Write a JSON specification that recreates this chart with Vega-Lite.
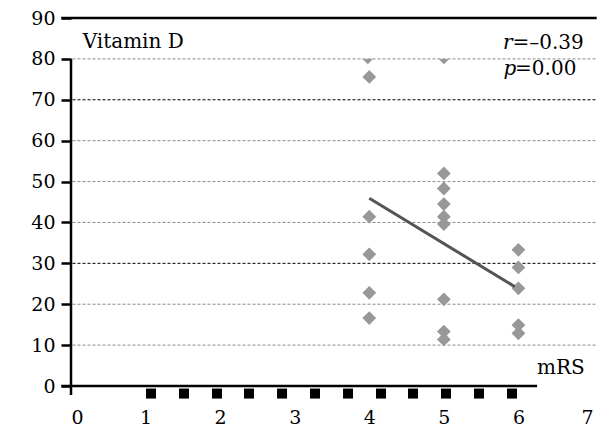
{
  "$schema": "https://vega.github.io/schema/vega-lite/v6.json",
  "autosize": "none",
  "width": 522,
  "height": 368,
  "padding": {"left": 71, "top": 18, "right": 17, "bottom": 42},
  "background": "white",
  "config": {"view": {"stroke": null}, "font": "DejaVu Serif", "axis": {"labelFont": "DejaVu Serif", "labelColor": "black"}},
  "datasets": {
    "points": [
      {"mRS": 4, "vitD": 75.6}, {"mRS": 4, "vitD": 41.4}, {"mRS": 4, "vitD": 32.2}, {"mRS": 4, "vitD": 22.8}, {"mRS": 4, "vitD": 16.6},
      {"mRS": 5, "vitD": 52.0}, {"mRS": 5, "vitD": 48.3}, {"mRS": 5, "vitD": 44.5}, {"mRS": 5, "vitD": 41.4}, {"mRS": 5, "vitD": 39.6}, {"mRS": 5, "vitD": 21.2}, {"mRS": 5, "vitD": 13.3}, {"mRS": 5, "vitD": 11.4},
      {"mRS": 6, "vitD": 33.3}, {"mRS": 6, "vitD": 29.0}, {"mRS": 6, "vitD": 23.9}, {"mRS": 6, "vitD": 14.9}, {"mRS": 6, "vitD": 12.9}
    ],
    "clipped": [{"mRS": 3.98, "vitD": 80}, {"mRS": 5.0, "vitD": 80}],
    "fit": [{"mRS": 4, "vitD": 45.9}, {"mRS": 5.95, "vitD": 24.3}],
    "gridGray": [{"v": 10}, {"v": 20}, {"v": 40}, {"v": 50}, {"v": 60}, {"v": 80}],
    "gridBlack": [{"v": 30}, {"v": 70}],
    "squares": [{"p": 1.073}, {"p": 1.515}, {"p": 1.958}, {"p": 2.387}, {"p": 2.83}, {"p": 3.272}, {"p": 3.715}, {"p": 4.157}, {"p": 4.586}, {"p": 5.029}, {"p": 5.471}, {"p": 5.914}]
  },
  "layer": [
    {
      "data": {"name": "gridGray"},
      "mark": {"type": "rule", "color": "#8a8a8a", "strokeWidth": 1, "strokeDash": [3, 2]},
      "encoding": {
        "y": {"field": "v", "type": "quantitative", "scale": {"domain": [0, 90], "nice": false, "zero": false},
          "axis": {"values": [0, 10, 20, 30, 40, 50, 60, 70, 80, 90], "format": "d", "domain": false, "grid": false, "tickSize": 10, "tickWidth": 2.5, "tickColor": "black", "labelFont": "DejaVu Serif", "labelFontSize": 19, "labelColor": "black", "labelPadding": 6, "title": null}},
        "x": {"datum": 0.02, "type": "quantitative", "scale": {"domain": [0, 7], "nice": false, "zero": false},
          "axis": {"values": [0, 1, 2, 3, 4, 5, 6, 7], "format": "d", "domain": false, "grid": false, "ticks": false, "tickSize": 0, "labelFont": "DejaVu Serif", "labelFontSize": 19, "labelColor": "black", "labelPadding": 31, "labelBaseline": "middle", "title": null}},
        "x2": {"datum": 7.05}
      }
    },
    {
      "data": {"name": "gridBlack"},
      "mark": {"type": "rule", "color": "black", "strokeWidth": 1, "strokeDash": [3, 2]},
      "encoding": {"y": {"field": "v", "type": "quantitative"}, "x": {"datum": 0.02, "type": "quantitative"}, "x2": {"datum": 7.05}}
    },
    {
      "data": {"values": [{"a": 1}]},
      "mark": {"type": "rule", "color": "black", "strokeWidth": 2.5},
      "encoding": {"y": {"datum": 90, "type": "quantitative"}, "x": {"datum": -0.13, "type": "quantitative"}, "x2": {"datum": 7.05}}
    },
    {
      "data": {"values": [{"a": 1}]},
      "mark": {"type": "rule", "color": "black", "strokeWidth": 2.5},
      "encoding": {"y": {"datum": 0, "type": "quantitative"}, "x": {"datum": -0.13, "type": "quantitative"}, "x2": {"datum": 6.25}}
    },
    {
      "data": {"values": [{"a": 1}]},
      "mark": {"type": "rule", "color": "black", "strokeWidth": 2.5},
      "encoding": {"x": {"datum": 0, "type": "quantitative"}, "y": {"datum": -2.2, "type": "quantitative"}, "y2": {"datum": 80}}
    },
    {
      "data": {"name": "squares"},
      "mark": {"type": "point", "shape": "square", "filled": true, "color": "black", "size": 100, "opacity": 1},
      "encoding": {"x": {"field": "p", "type": "quantitative"}, "y": {"datum": -1.85, "type": "quantitative"}}
    },
    {
      "data": {"name": "points"},
      "mark": {"type": "point", "shape": "diamond", "filled": true, "color": "#989898", "size": 190, "opacity": 1},
      "encoding": {"x": {"field": "mRS", "type": "quantitative"}, "y": {"field": "vitD", "type": "quantitative"}}
    },
    {
      "data": {"name": "clipped"},
      "mark": {"type": "point", "shape": "M-1,0L1,0L0,1Z", "filled": true, "color": "#989898", "size": 110, "opacity": 1},
      "encoding": {"x": {"field": "mRS", "type": "quantitative"}, "y": {"field": "vitD", "type": "quantitative"}}
    },
    {
      "data": {"name": "fit"},
      "mark": {"type": "line", "color": "#555555", "strokeWidth": 3},
      "encoding": {"x": {"field": "mRS", "type": "quantitative"}, "y": {"field": "vitD", "type": "quantitative"}}
    },
    {
      "data": {"values": [{"t": "Vitamin D"}]},
      "mark": {"type": "text", "align": "left", "baseline": "middle", "font": "DejaVu Serif", "fontSize": 20, "color": "black"},
      "encoding": {"text": {"field": "t"}, "x": {"datum": 0.157, "type": "quantitative"}, "y": {"datum": 84.2, "type": "quantitative"}}
    },
    {
      "data": {"values": [{"t": "r"}]},
      "mark": {"type": "text", "align": "left", "baseline": "middle", "font": "DejaVu Serif", "fontStyle": "italic", "fontSize": 20, "color": "black"},
      "encoding": {"text": {"field": "t"}, "x": {"datum": 5.793, "type": "quantitative"}, "y": {"datum": 84, "type": "quantitative"}}
    },
    {
      "data": {"values": [{"t": "=–0.39"}]},
      "mark": {"type": "text", "align": "left", "baseline": "middle", "font": "DejaVu Serif", "fontSize": 20, "color": "black"},
      "encoding": {"text": {"field": "t"}, "x": {"datum": 5.92, "type": "quantitative"}, "y": {"datum": 84, "type": "quantitative"}}
    },
    {
      "data": {"values": [{"t": "p"}]},
      "mark": {"type": "text", "align": "left", "baseline": "middle", "font": "DejaVu Serif", "fontStyle": "italic", "fontSize": 20, "color": "black"},
      "encoding": {"text": {"field": "t"}, "x": {"datum": 5.80, "type": "quantitative"}, "y": {"datum": 77.6, "type": "quantitative"}}
    },
    {
      "data": {"values": [{"t": "=0.00"}]},
      "mark": {"type": "text", "align": "left", "baseline": "middle", "font": "DejaVu Serif", "fontSize": 20, "color": "black"},
      "encoding": {"text": {"field": "t"}, "x": {"datum": 5.955, "type": "quantitative"}, "y": {"datum": 77.6, "type": "quantitative"}}
    },
    {
      "data": {"values": [{"t": "mRS"}]},
      "mark": {"type": "text", "align": "left", "baseline": "middle", "font": "DejaVu Serif", "fontSize": 20, "color": "black"},
      "encoding": {"text": {"field": "t"}, "x": {"datum": 6.249, "type": "quantitative"}, "y": {"datum": 4.4, "type": "quantitative"}}
    }
  ]
}
